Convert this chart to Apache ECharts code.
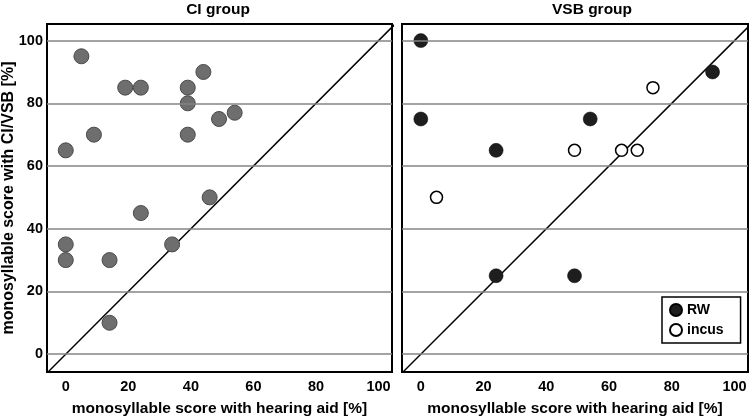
<!DOCTYPE html>
<html><head><meta charset="utf-8">
<script src="https://cdn.jsdelivr.net/npm/echarts@6/dist/echarts.min.js"></script>
<style>html,body{margin:0;padding:0;background:#fff}#c{width:749px;height:416px}</style>
</head><body><div id="c"></div>
<script>
// CI group (hearing aid score, CI score)
const ciX = [5, 19, 24, 39, 39, 39, 44, 49, 54, 9, 0, 46, 24, 0, 0, 14, 34, 14];
const ciY = [95, 85, 85, 85, 80, 70, 90, 75, 77, 70, 65, 50, 45, 35, 30, 30, 35, 10];
// VSB group, RW
const rwX = [0, 0, 24, 54, 93, 24, 49];
const rwY = [100, 75, 65, 75, 90, 25, 25];
// VSB group, incus
const incusX = [5, 49, 64, 69, 74];
const incusY = [50, 65, 65, 65, 85];
const tickValues = [0, 20, 40, 60, 80, 100];
const diagonal = [[-10, -10], [110, 110]];

const zip = (a, b) => a.map((v, i) => [v, b[i]]);
const font = 'Liberation Sans, Arial, sans-serif';
const gridLines = tickValues.map(v => ({ yAxis: v }));

function xAxis(idx) {
  return {
    gridIndex: idx, type: 'value', min: -6, max: 104.3,
    name: 'monosyllable score with hearing aid [%]', nameLocation: 'middle', nameGap: 29,
    nameTextStyle: { fontFamily: font, fontWeight: 'bold', fontSize: 15.5, color: '#000' },
    axisLine: { show: false }, axisTick: { show: false }, splitLine: { show: false },
    axisLabel: { customValues: tickValues, fontFamily: font, fontWeight: 'bold', fontSize: 14.5, color: '#000', margin: 7 }
  };
}
function yAxis(idx, withLabels) {
  return {
    gridIndex: idx, type: 'value', min: -5.7, max: 105.3,
    name: withLabels ? 'monosyllable score with CI/VSB [%]' : '', nameLocation: 'middle', nameGap: 30,
    nameMoveOverlap: false,
    nameTextStyle: { fontFamily: font, fontWeight: 'bold', fontSize: 16, color: '#000' },
    axisLine: { show: false }, axisTick: { show: false }, splitLine: { show: false },
    axisLabel: { show: withLabels, customValues: tickValues, fontFamily: font, fontWeight: 'bold', fontSize: 14.5, color: '#000', margin: 4 }
  };
}
function gridLineSeries(idx) {
  return {
    type: 'line', xAxisIndex: idx, yAxisIndex: idx, data: [], silent: true, z: 1,
    markLine: { symbol: 'none', silent: true, label: { show: false },
      lineStyle: { color: '#858585', width: 1.5, type: 'solid' }, data: gridLines, animation: false }
  };
}
function diagSeries(idx) {
  return {
    type: 'line', xAxisIndex: idx, yAxisIndex: idx, data: diagonal, symbol: 'none', clip: true,
    lineStyle: { color: '#000', width: 1.5 }, z: 2, silent: true, animation: false
  };
}

const chart = echarts.init(document.getElementById('c'));
chart.setOption({
  animation: false,
  backgroundColor: '#fff',
  title: [
    { text: 'CI group', left: 213, top: -3, textAlign: 'center', textStyle: { fontFamily: font, fontWeight: 'bold', fontSize: 15.5, color: '#000' } },
    { text: 'VSB group', left: 587, top: -3, textAlign: 'center', textStyle: { fontFamily: font, fontWeight: 'bold', fontSize: 15.5, color: '#000' } }
  ],
  grid: [
    { left: 47, top: 24, width: 345, height: 348, show: true, borderColor: '#000', borderWidth: 2, backgroundColor: 'transparent', outerBoundsMode: 'none', containLabel: false },
    { left: 402, top: 24, width: 346, height: 348, show: true, borderColor: '#000', borderWidth: 2, backgroundColor: 'transparent', outerBoundsMode: 'none', containLabel: false }
  ],
  xAxis: [xAxis(0), xAxis(1)],
  yAxis: [yAxis(0, true), yAxis(1, false)],
  legend: {
    data: ['RW', 'incus'], orient: 'vertical', left: 662, top: 297,
    itemWidth: 12, itemHeight: 12, itemGap: 6, padding: [6, 17, 6, 7],
    borderColor: '#000', borderWidth: 1.5, backgroundColor: '#fff',
    textStyle: { fontFamily: font, fontWeight: 'bold', fontSize: 14, color: '#000' }
  },
  series: [
    gridLineSeries(0), gridLineSeries(1), diagSeries(0), diagSeries(1),
    { name: 'CI', type: 'scatter', xAxisIndex: 0, yAxisIndex: 0, data: zip(ciX, ciY), symbol: 'circle', symbolSize: 15,
      itemStyle: { color: '#6e6e6e', borderColor: '#4a4a4a', borderWidth: 1, opacity: 1 }, z: 3 },
    { name: 'RW', type: 'scatter', xAxisIndex: 1, yAxisIndex: 1, data: zip(rwX, rwY), symbol: 'circle', symbolSize: 14,
      itemStyle: { color: '#1e1e1e', borderColor: '#000', borderWidth: 0.5, opacity: 1 }, z: 3 },
    { name: 'incus', type: 'scatter', xAxisIndex: 1, yAxisIndex: 1, data: zip(incusX, incusY), symbol: 'circle', symbolSize: 12,
      itemStyle: { color: '#fff', borderColor: '#000', borderWidth: 1.5, opacity: 1 }, z: 3 }
  ]
});
</script></body></html>
